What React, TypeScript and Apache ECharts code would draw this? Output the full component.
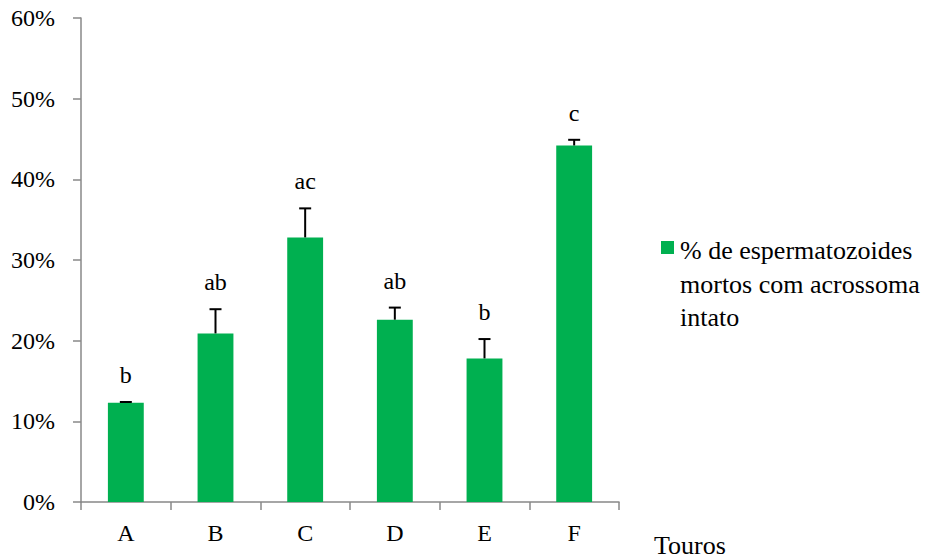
import React, { useEffect, useRef } from "react";
import * as echarts from "echarts";

const categories = ["A", "B", "C", "D", "E", "F"];
const means = [12.3, 20.9, 32.8, 22.6, 17.8, 44.2];
const errors = [0.1, 3.0, 3.6, 1.5, 2.4, 0.7];
const groups = ["b", "ab", "ac", "ab", "b", "c"];
const legendLines = ["% de espermatozoides", "mortos com acrossoma", "intato"];
const xAxisTitle = "Touros";
const yTicks = [0, 10, 20, 30, 40, 50, 60];

const FONT = "Liberation Serif";
const AXIS_FONT_SIZE = 24;
const LEGEND_FONT_SIZE = 26;
const BAR_COLOR = "#00B050";
const AXIS_COLOR = "#888888";

export default function App() {
  const ref = useRef<HTMLDivElement>(null);

  useEffect(() => {
    if (!ref.current) return;
    const chart = echarts.init(ref.current, undefined, { renderer: "svg" });

    chart.setOption({
      animation: false,
      backgroundColor: "#ffffff",
      textStyle: { fontFamily: FONT, color: "#000" },
      grid: { left: 81, right: 310, top: 18, bottom: 57, containLabel: false },
      legend: { show: false },
      graphic: [
        {
          type: "rect",
          x: 661,
          y: 241,
          shape: { width: 13, height: 13 },
          style: { fill: BAR_COLOR },
        },
        {
          type: "text",
          x: 680,
          y: 284,
          style: {
            text: legendLines.join("\n"),
            fontFamily: FONT,
            fontSize: LEGEND_FONT_SIZE,
            lineHeight: 33.5,
            verticalAlign: "middle",
            fill: "#000",
          },
        },
        {
          type: "text",
          x: 654,
          y: 545.5,
          style: {
            text: xAxisTitle,
            fontFamily: FONT,
            fontSize: LEGEND_FONT_SIZE,
            verticalAlign: "middle",
            fill: "#000",
          },
        },
      ],
      xAxis: {
        type: "category",
        data: categories,
        axisLine: { lineStyle: { color: AXIS_COLOR, width: 1.5 } },
        axisTick: { show: true, length: 8, lineStyle: { color: AXIS_COLOR, width: 1.5 } },
        axisLabel: { fontFamily: FONT, fontSize: AXIS_FONT_SIZE, color: "#000", margin: 19 },
      },
      yAxis: {
        type: "value",
        min: yTicks[0],
        max: yTicks[yTicks.length - 1],
        interval: 10,
        axisLine: { show: true, lineStyle: { color: AXIS_COLOR, width: 1.5 } },
        axisTick: { show: true, length: 8, lineStyle: { color: AXIS_COLOR, width: 1.5 } },
        splitLine: { show: false },
        axisLabel: {
          fontFamily: FONT,
          fontSize: AXIS_FONT_SIZE,
          color: "#000",
          margin: 26,
          formatter: (v: number) => `${v}%`,
        },
      },
      series: [
        {
          name: legendLines.join(" "),
          type: "bar",
          data: means,
          barWidth: "40%",
          itemStyle: { color: BAR_COLOR },
        },
        {
          type: "custom",
          data: means.map((m, i) => [i, m, errors[i]]),
          z: 5,
          renderItem: (params: any, api: any) => {
            const i = api.value(0);
            const m = api.value(1);
            const e = api.value(2);
            const base = api.coord([i, m]);
            const top = api.coord([i, m + e]);
            const stroke = { stroke: "#000", lineWidth: 2 };
            return {
              type: "group",
              children: [
                {
                  type: "line",
                  shape: { x1: base[0], y1: base[1], x2: top[0], y2: top[1] },
                  style: stroke,
                },
                {
                  type: "line",
                  shape: { x1: top[0] - 6, y1: top[1], x2: top[0] + 6, y2: top[1] },
                  style: stroke,
                },
                {
                  type: "text",
                  x: top[0],
                  y: top[1] - 27,
                  style: {
                    text: groups[params.dataIndex],
                    align: "center",
                    verticalAlign: "middle",
                    fontFamily: FONT,
                    fontSize: AXIS_FONT_SIZE,
                    fill: "#000",
                  },
                },
              ],
            };
          },
        },
      ],
    });

    return () => chart.dispose();
  }, []);

  return <div ref={ref} style={{ width: 929, height: 559, position: "absolute", left: 0, top: 0 }} />;
}
